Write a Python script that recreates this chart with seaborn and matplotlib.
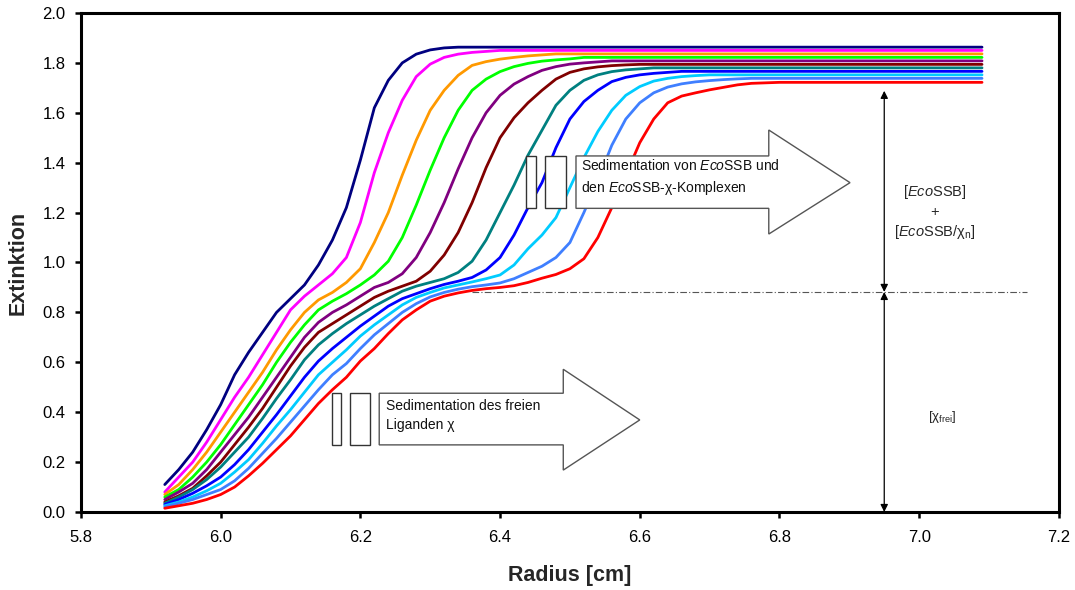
import numpy as np
import pandas as pd
import matplotlib
matplotlib.use("Agg")
import matplotlib.pyplot as plt
from matplotlib.patches import Polygon, Rectangle
import seaborn as sns

# ---------------- data ----------------
radius = [5.92, 5.94, 5.96, 5.98, 6.00, 6.02, 6.04, 6.06, 6.08, 6.10,
          6.12, 6.14, 6.16, 6.18, 6.20, 6.22, 6.24, 6.26, 6.28, 6.30,
          6.32, 6.34, 6.36, 6.38, 6.40, 6.42, 6.44, 6.46, 6.48, 6.50,
          6.52, 6.54, 6.56, 6.58, 6.60, 6.62, 6.64, 6.66, 6.68, 6.70,
          6.72, 6.74, 6.76, 6.80, 6.90, 7.00, 7.09]

scan_navy = [0.11, 0.17, 0.24, 0.33, 0.43, 0.55, 0.64, 0.72, 0.80, 0.855,
             0.91, 0.99, 1.09, 1.22, 1.41, 1.62, 1.73, 1.80, 1.835, 1.852,
             1.86, 1.863, 1.863, 1.863, 1.863, 1.863, 1.863, 1.863, 1.863, 1.863,
             1.863, 1.863, 1.863, 1.863, 1.863, 1.863, 1.863, 1.863, 1.863, 1.863,
             1.863, 1.863, 1.863, 1.863, 1.863, 1.863, 1.863]
scan_magenta = [0.08, 0.14, 0.20, 0.28, 0.37, 0.46, 0.54, 0.63, 0.72, 0.81,
                0.865, 0.91, 0.955, 1.02, 1.16, 1.36, 1.52, 1.65, 1.745, 1.795,
                1.822, 1.835, 1.842, 1.846, 1.85, 1.85, 1.85, 1.85, 1.85, 1.85,
                1.85, 1.85, 1.85, 1.85, 1.85, 1.85, 1.85, 1.85, 1.85, 1.85,
                1.85, 1.85, 1.85, 1.85, 1.85, 1.85, 1.85]
scan_orange = [0.07, 0.11, 0.17, 0.24, 0.32, 0.40, 0.48, 0.56, 0.65, 0.73,
               0.80, 0.85, 0.88, 0.92, 0.975, 1.08, 1.20, 1.35, 1.49, 1.61,
               1.69, 1.75, 1.79, 1.805, 1.815, 1.822, 1.828, 1.832, 1.836, 1.836,
               1.836, 1.836, 1.836, 1.836, 1.836, 1.836, 1.836, 1.836, 1.836, 1.836,
               1.836, 1.836, 1.836, 1.836, 1.836, 1.836, 1.836]
scan_green = [0.06, 0.09, 0.14, 0.20, 0.27, 0.35, 0.43, 0.51, 0.60, 0.68,
              0.75, 0.81, 0.845, 0.875, 0.91, 0.95, 1.005, 1.10, 1.23, 1.37,
              1.50, 1.61, 1.69, 1.735, 1.765, 1.785, 1.798, 1.807, 1.812, 1.816,
              1.822, 1.822, 1.822, 1.822, 1.822, 1.822, 1.822, 1.822, 1.822, 1.822,
              1.822, 1.822, 1.822, 1.822, 1.822, 1.822, 1.822]
scan_purple = [0.05, 0.08, 0.115, 0.17, 0.24, 0.31, 0.38, 0.46, 0.54, 0.62,
               0.70, 0.76, 0.80, 0.83, 0.865, 0.90, 0.92, 0.955, 1.02, 1.12,
               1.24, 1.375, 1.50, 1.60, 1.67, 1.715, 1.745, 1.77, 1.785, 1.795,
               1.80, 1.804, 1.808, 1.808, 1.808, 1.808, 1.808, 1.808, 1.808, 1.808,
               1.808, 1.808, 1.808, 1.808, 1.808, 1.808, 1.808]
scan_maroon = [0.04, 0.065, 0.095, 0.145, 0.20, 0.27, 0.34, 0.415, 0.50, 0.585,
               0.66, 0.72, 0.755, 0.79, 0.825, 0.86, 0.885, 0.905, 0.925, 0.965,
               1.03, 1.12, 1.24, 1.38, 1.50, 1.58, 1.64, 1.69, 1.735, 1.762,
               1.776, 1.784, 1.789, 1.792, 1.794, 1.794, 1.794, 1.794, 1.794, 1.794,
               1.794, 1.794, 1.794, 1.794, 1.794, 1.794, 1.794]
scan_teal = [0.035, 0.06, 0.09, 0.13, 0.18, 0.24, 0.30, 0.375, 0.455, 0.53,
             0.61, 0.67, 0.715, 0.755, 0.79, 0.825, 0.855, 0.885, 0.905, 0.92,
             0.935, 0.96, 1.005, 1.09, 1.20, 1.31, 1.43, 1.53, 1.63, 1.69,
             1.73, 1.752, 1.765, 1.772, 1.776, 1.78, 1.78, 1.78, 1.78, 1.78,
             1.78, 1.78, 1.78, 1.78, 1.78, 1.78, 1.78]
scan_blue = [0.03, 0.05, 0.075, 0.105, 0.14, 0.19, 0.25, 0.32, 0.39, 0.465,
             0.54, 0.605, 0.655, 0.70, 0.745, 0.785, 0.825, 0.855, 0.875, 0.895,
             0.912, 0.925, 0.94, 0.97, 1.02, 1.11, 1.22, 1.32, 1.46, 1.575,
             1.645, 1.69, 1.725, 1.742, 1.752, 1.758, 1.762, 1.766, 1.766, 1.766,
             1.766, 1.766, 1.766, 1.766, 1.766, 1.766, 1.766]
scan_skyblue = [0.025, 0.04, 0.06, 0.085, 0.115, 0.16, 0.21, 0.275, 0.345, 0.41,
                0.48, 0.55, 0.60, 0.65, 0.705, 0.75, 0.79, 0.83, 0.86, 0.88,
                0.898, 0.91, 0.922, 0.935, 0.95, 0.99, 1.055, 1.11, 1.18, 1.30,
                1.42, 1.525, 1.61, 1.67, 1.705, 1.727, 1.738, 1.745, 1.749, 1.752,
                1.752, 1.752, 1.752, 1.752, 1.752, 1.752, 1.752]
scan_cornflower = [0.02, 0.035, 0.05, 0.07, 0.09, 0.125, 0.175, 0.235, 0.295, 0.36,
                   0.425, 0.49, 0.55, 0.595, 0.655, 0.71, 0.755, 0.80, 0.835, 0.862,
                   0.88, 0.893, 0.903, 0.91, 0.918, 0.935, 0.96, 0.985, 1.02, 1.08,
                   1.20, 1.33, 1.47, 1.575, 1.64, 1.68, 1.703, 1.716, 1.724, 1.729,
                   1.733, 1.736, 1.738, 1.738, 1.738, 1.738, 1.738]
scan_red = [0.015, 0.025, 0.035, 0.05, 0.07, 0.10, 0.145, 0.195, 0.25, 0.305,
            0.37, 0.435, 0.49, 0.54, 0.605, 0.655, 0.715, 0.77, 0.81, 0.845,
            0.865, 0.878, 0.888, 0.895, 0.90, 0.907, 0.92, 0.937, 0.952, 0.975,
            1.015, 1.10, 1.22, 1.35, 1.48, 1.575, 1.64, 1.667, 1.68, 1.692,
            1.702, 1.712, 1.718, 1.722, 1.722, 1.722, 1.722]

scan_names = ["navy", "magenta", "orange", "green", "purple", "maroon",
              "teal", "blue", "skyblue", "cornflower", "red"]
scan_values = [scan_navy, scan_magenta, scan_orange, scan_green, scan_purple,
               scan_maroon, scan_teal, scan_blue, scan_skyblue, scan_cornflower,
               scan_red]
scan_colors = ["#000080", "#FF00FF", "#FF9900", "#00FF00", "#800080", "#800000",
               "#008080", "#0000FF", "#00CCFF", "#3F7FFF", "#FF0000"]

x_ticks = [5.8, 6.0, 6.2, 6.4, 6.6, 6.8, 7.0, 7.2]
y_ticks = [0.0, 0.2, 0.4, 0.6, 0.8, 1.0, 1.2, 1.4, 1.6, 1.8, 2.0]

# annotation geometry (data units)
boundary_level = 0.882
arrow_x = 6.95
arrow_top = 1.688
arrow1 = dict(x0=6.227, xb=6.4905, xt=6.600, yb0=0.269, yb1=0.476,
              yh0=0.168, yh1=0.572, ytip=0.369, rects=[(6.159, 6.173), (6.185, 6.214)])
arrow2 = dict(x0=6.5087, xb=6.7847, xt=6.901, yb0=1.217, yb1=1.427,
              yh0=1.114, yh1=1.531, ytip=1.320, rects=[(6.437, 6.451), (6.465, 6.494)])

# ---------------- styling ----------------
sns.set_style("ticks")
plt.rcParams["font.family"] = ["Liberation Sans", "DejaVu Sans"]
plt.rcParams["mathtext.fontset"] = "custom"
plt.rcParams["mathtext.rm"] = "Liberation Sans"
plt.rcParams["mathtext.it"] = "Liberation Sans:italic"
plt.rcParams["mathtext.bf"] = "Liberation Sans:bold"
plt.rcParams["mathtext.sf"] = "Liberation Sans"

rows = []
for name, vals in zip(scan_names, scan_values):
    for r, v in zip(radius, vals):
        rows.append((name, r, v))
df = pd.DataFrame(rows, columns=["scan", "radius", "extinction"])

fig = plt.figure(figsize=(10.75, 5.9), dpi=100)
ax = fig.add_axes([0.0753, 0.1322, 0.9097, 0.8458])

sns.lineplot(data=df, x="radius", y="extinction", hue="scan",
             hue_order=scan_names, palette=dict(zip(scan_names, scan_colors)),
             estimator=None, sort=False, legend=False, linewidth=2.0, ax=ax,
             zorder=2)

ax.set_xlim(5.8, 7.2)
ax.set_ylim(0.0, 2.0)
ax.set_xticks(x_ticks)
ax.set_yticks(y_ticks)
ax.set_xticklabels([f"{t:.1f}" for t in x_ticks])
ax.set_yticklabels([f"{t:.1f}" for t in y_ticks])
ax.tick_params(axis="both", direction="out", length=4, width=1.8,
               labelsize=12, colors="black")
ax.tick_params(axis="x", pad=9)
ax.tick_params(axis="y", pad=7)
for sp in ax.spines.values():
    sp.set_visible(True)
    sp.set_linewidth(2.2)
    sp.set_color("black")

ax.set_xlabel("Radius [cm]", fontsize=15.5, fontweight="bold")
ax.set_ylabel("Extinktion", fontsize=15.5, fontweight="bold")
ax.xaxis.set_label_coords(0.5, -0.106)
ax.yaxis.set_label_coords(-0.054, 0.5)

# dash-dot boundary line
ax.plot([6.36, 7.155], [boundary_level, boundary_level], color="#555555",
        lw=0.8, linestyle=(0, (6, 2, 1, 2)), zorder=3)

# vertical double arrows
ap = dict(arrowstyle="<|-|>", color="black", lw=0.9, mutation_scale=11,
          shrinkA=0, shrinkB=0)
ax.annotate("", xy=(arrow_x, arrow_top), xytext=(arrow_x, boundary_level),
            arrowprops=ap, zorder=4)
ax.annotate("", xy=(arrow_x, boundary_level), xytext=(arrow_x, 0.0),
            arrowprops=ap, zorder=4)


def block_arrow(a):
    pts = [(a["x0"], a["yb0"]), (a["x0"], a["yb1"]), (a["xb"], a["yb1"]),
           (a["xb"], a["yh1"]), (a["xt"], a["ytip"]), (a["xb"], a["yh0"]),
           (a["xb"], a["yb0"])]
    ax.add_patch(Polygon(pts, closed=True, facecolor="white",
                         edgecolor="#555555", lw=1.0, zorder=5))
    for (r0, r1) in a["rects"]:
        ax.add_patch(Rectangle((r0, a["yb0"]), r1 - r0, a["yb1"] - a["yb0"],
                               facecolor="white", edgecolor="#333333",
                               lw=1.0, zorder=5))


block_arrow(arrow1)
block_arrow(arrow2)

ax.text(6.236, 0.386, "Sedimentation des freien\nLiganden χ", fontsize=10,
        ha="left", va="center", linespacing=1.45, zorder=6, color="#111111")
ax.text(6.516, 1.342,
        "Sedimentation von $\\mathit{Eco}$SSB und\nden $\\mathit{Eco}$SSB-χ-Komplexen",
        fontsize=10, ha="left", va="center", linespacing=1.45, zorder=6,
        color="#111111")

ax.text(7.022, 1.281, "[$\\mathit{Eco}$SSB]", fontsize=10.5, ha="center",
        va="center", zorder=6)
ax.text(7.022, 1.204, "+", fontsize=10.5, ha="center", va="center", zorder=6)
ax.text(7.022, 1.121, "[$\\mathit{Eco}$SSB/$\\mathrm{χ}_{\\mathrm{n}}$]",
        fontsize=10.5, ha="center", va="center", zorder=6)
ax.text(7.033, 0.382, "[$\\mathrm{χ}_{\\mathrm{frei}}$]", fontsize=9.5,
        ha="center", va="center", zorder=6)

fig.savefig("out.png", dpi=100)
